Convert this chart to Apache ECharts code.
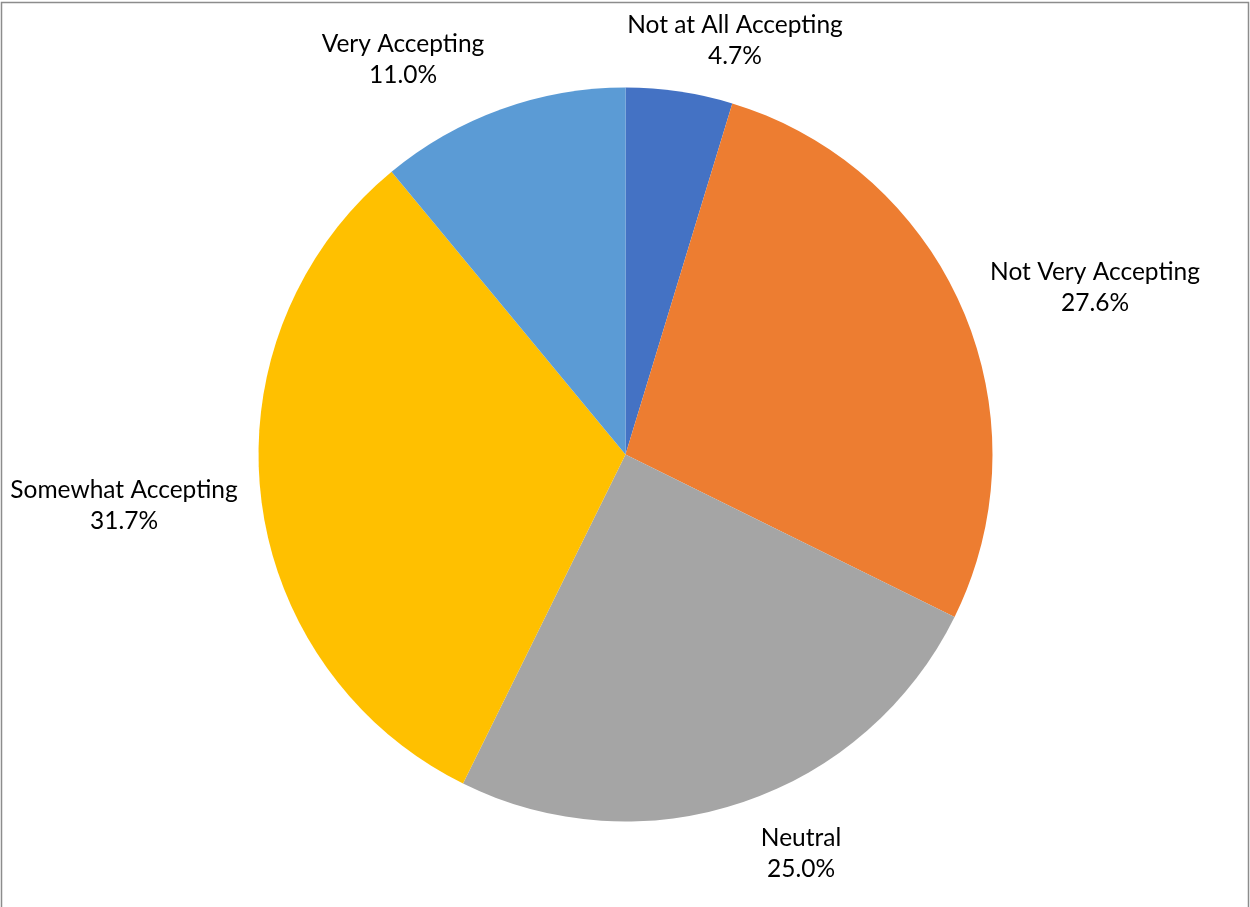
<!DOCTYPE html>
<html>
<head>
<meta charset="utf-8">
<script src="https://cdn.jsdelivr.net/npm/echarts@6/dist/echarts.min.js"></script>
<style>
  html, body { margin: 0; padding: 0; background: #ffffff; }
  #chart { width: 1250px; height: 907px; }
</style>
</head>
<body>
<div id="chart"></div>
<script>
// Survey responses: level of acceptance
var categories = ['Not at All Accepting', 'Not Very Accepting', 'Neutral', 'Somewhat Accepting', 'Very Accepting'];
var shares = [4.7, 27.6, 25.0, 31.7, 11.0];
var sliceColors = ['#4472C4', '#ED7D31', '#A5A5A5', '#FFC000', '#5B9BD5'];

// Centre points of each two-line label block
var labelAnchors = [[735, 41], [1095, 288], [801, 854], [124, 506], [403, 60]];

var chart = echarts.init(document.getElementById('chart'), null, { renderer: 'canvas' });

var pieData = categories.map(function (name, i) {
  return { name: name, value: shares[i], itemStyle: { color: sliceColors[i] } };
});

chart.setOption({
  backgroundColor: '#ffffff',
  animation: false,
  graphic: [{
    type: 'rect',
    shape: { x: 1.5, y: 2.5, width: 1247, height: 920 },
    style: { fill: 'none', stroke: '#8c8c8c', lineWidth: 1.5 },
    silent: true
  }],
  series: [{
    type: 'pie',
    center: [625.5, 454.5],
    radius: [0, 367],
    startAngle: 90,
    clockwise: true,
    avoidLabelOverlap: false,
    itemStyle: { borderWidth: 0 },
    label: {
      show: true,
      position: 'outside',
      formatter: function (p) { return p.name + '\n' + p.value.toFixed(1) + '%'; },
      fontFamily: 'Lato, "Open Sans", sans-serif',
      fontSize: 24.5,
      lineHeight: 31,
      color: '#000000',
      align: 'center'
    },
    labelLine: { show: false },
    labelLayout: function (params) {
      var a = labelAnchors[params.dataIndex];
      return { x: a[0], y: a[1], align: 'center', verticalAlign: 'middle' };
    },
    emphasis: { disabled: true },
    data: pieData
  }]
});
</script>
</body>
</html>
